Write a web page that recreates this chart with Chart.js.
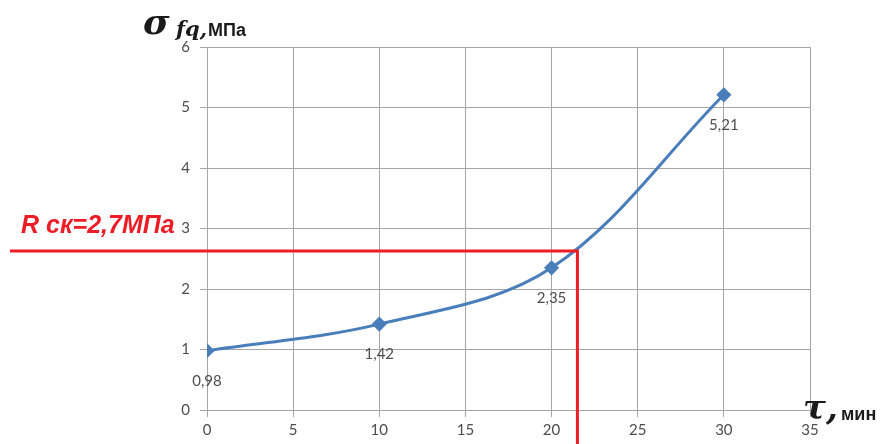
<!DOCTYPE html>
<html>
<head>
<meta charset="utf-8">
<script src="https://cdn.jsdelivr.net/npm/chart.js@4.4.1/dist/chart.umd.min.js"></script>
<style>
  html, body { margin: 0; padding: 0; background: #fff; }
  #wrap { width: 883px; height: 444px; position: relative; }
</style>
</head>
<body>
<div id="wrap"><canvas id="c" width="883" height="444"></canvas></div>
<script>
// Time, min
const times = [0, 10, 20, 30];
// Strength σfq, MPa
const stress = [0.98, 1.42, 2.35, 5.21];
// Value labels shown under each point
const pointLabels = ['0,98', '1,42', '2,35', '5,21'];
// Reference strength level and the time at which the curve reaches it
const refStress = [2.63];
const refTime = [21.5];
const refLabel = 'R ск=2,7МПа';

const xTicks = [0, 5, 10, 15, 20, 25, 30, 35];
const yTicks = [0, 1, 2, 3, 4, 5, 6];

const tickColor = '#4d4d4d';
const gridColor = '#a6a6a6';

const decorations = {
  id: 'decorations',
  afterDatasetsDraw(chart) {
    const ctx = chart.ctx;
    const xs = chart.scales.x, ys = chart.scales.y;
    // red guide lines
    const gx = xs.getPixelForValue(refTime[0]);
    const gy = ys.getPixelForValue(refStress[0]);
    ctx.save();
    ctx.strokeStyle = '#ee1c25';
    ctx.lineWidth = 3;
    ctx.beginPath();
    ctx.moveTo(10, gy);
    ctx.lineTo(gx, gy);
    ctx.lineTo(gx, chart.height);
    ctx.stroke();
    ctx.fillStyle = '#ee1c25';
    ctx.font = 'italic bold 25px "Liberation Sans", Arial, sans-serif';
    ctx.textBaseline = 'alphabetic';
    ctx.textAlign = 'left';
    ctx.fillText(refLabel, 21, 233);

    // value labels
    ctx.fillStyle = tickColor;
    ctx.font = '15px Lato, "Liberation Sans", sans-serif';
    ctx.textAlign = 'center';
    ctx.textBaseline = 'middle';
    const meta = chart.getDatasetMeta(0);
    meta.data.forEach((pt, i) => {
      ctx.fillText(pointLabels[i], pt.x, pt.y + 30);
    });

    // axis titles
    ctx.fillStyle = '#1a1a1a';
    ctx.textAlign = 'left';
    ctx.textBaseline = 'alphabetic';
    ctx.font = 'italic bold 36px "DejaVu Serif", serif';
    ctx.fillText('σ', 143, 34);
    ctx.font = 'italic bold 21px "DejaVu Serif", serif';
    ctx.fillText('fq,', 176, 36);
    ctx.font = 'bold 18px "Liberation Sans", Arial, sans-serif';
    ctx.fillText('МПа', 208, 36);

    ctx.font = 'italic bold 34px "DejaVu Serif", serif';
    ctx.fillText('τ,', 803, 419);
    ctx.font = 'bold 18px "Liberation Sans", Arial, sans-serif';
    ctx.fillText('мин', 841, 420);
    ctx.restore();
  }
};

new Chart(document.getElementById('c'), {
  type: 'line',
  data: {
    datasets: [{
      data: times.map((t, i) => ({ x: t, y: stress[i] })),
      borderColor: '#4a7ebb',
      backgroundColor: '#4a7ebb',
      borderWidth: 3,
      tension: 0.35,
      pointStyle: 'rectRot',
      pointRadius: 5.5,
      pointHoverRadius: 5.5,
      fill: false
    }]
  },
  options: {
    responsive: false,
    animation: false,
    devicePixelRatio: 1,
    layout: { padding: { left: 0, top: 47, right: 73, bottom: 0 } },
    plugins: { legend: { display: false }, tooltip: { enabled: false } },
    scales: {
      x: {
        type: 'linear',
        min: 0, max: 35,
        afterBuildTicks(axis) { axis.ticks = xTicks.map(v => ({ value: v })); },
        afterFit(axis) { axis.height = 34; },
        grid: { color: gridColor, lineWidth: 1, tickLength: 7, drawTicks: true },
        border: { color: gridColor },
        ticks: { color: tickColor, font: { size: 15, family: 'Lato, "Liberation Sans", sans-serif' }, padding: 4, callback: v => String(v) }
      },
      y: {
        min: 0, max: 6,
        afterBuildTicks(axis) { axis.ticks = yTicks.map(v => ({ value: v })); },
        afterFit(axis) { axis.width = 207; },
        grid: { color: gridColor, lineWidth: 1, tickLength: 7, drawTicks: true },
        border: { color: gridColor },
        ticks: { color: tickColor, font: { size: 15, family: 'Lato, "Liberation Sans", sans-serif' }, padding: 10, callback: v => String(v) }
      }
    }
  },
  plugins: [decorations]
});
</script>
</body>
</html>
